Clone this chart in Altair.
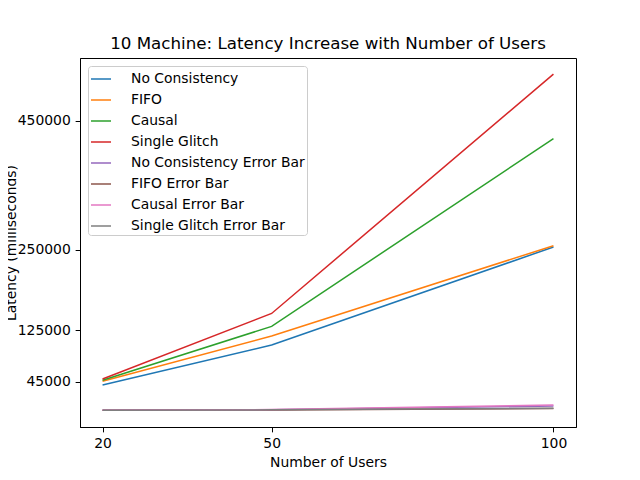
import altair as alt
import pandas as pd

users = [20, 50, 100]
series_names = [
    "No Consistency", "FIFO", "Causal", "Single Glitch",
    "No Consistency Error Bar", "FIFO Error Bar", "Causal Error Bar", "Single Glitch Error Bar",
]
no_consistency = [40000, 102000, 254000]
fifo = [46000, 116000, 256000]
causal = [47500, 131000, 422000]
single_glitch = [49500, 151000, 522000]
no_consistency_err = [1000, 1800, 7500]
fifo_err = [1000, 1500, 3500]
causal_err = [1100, 2000, 9000]
single_glitch_err = [1000, 1600, 4000]

colors = ["#1f77b4", "#ff7f0e", "#2ca02c", "#d62728",
          "#9467bd", "#8c564b", "#e377c2", "#7f7f7f"]
y_ticks = [45000, 125000, 250000, 450000]

all_series = [no_consistency, fifo, causal, single_glitch,
              no_consistency_err, fifo_err, causal_err, single_glitch_err]
rows = []
for i, (name, vals) in enumerate(zip(series_names, all_series)):
    for u, v in zip(users, vals):
        rows.append({"users": u, "latency": v, "series": name, "order": i})
df = pd.DataFrame(rows)

font = "DejaVu Sans"

chart = alt.Chart(df).mark_line(strokeWidth=1.5).encode(
    x=alt.X("users:Q", title="Number of Users",
            scale=alt.Scale(domain=[16, 104], nice=False, zero=False),
            axis=alt.Axis(values=users, format="d", labelPadding=4.9, titlePadding=5)),
    y=alt.Y("latency:Q", title="Latency (milliseconds)",
            scale=alt.Scale(domain=[-25000, 547000], nice=False, zero=False),
            axis=alt.Axis(values=y_ticks, format="d", labelPadding=4.9,
                          titleX=-62, titleY=184.5, titleBaseline="bottom",
                          titleAlign="center", titleAngle=270)),
    color=alt.Color("series:N", scale=alt.Scale(domain=series_names, range=colors),
                    legend=alt.Legend(title=None, orient="none", legendX=8, legendY=8,
                                      symbolType="stroke", symbolSize=400,
                                      symbolStrokeWidth=1.5, labelOffset=19,
                                      rowPadding=3, padding=2, labelLimit=400,
                                      strokeColor="#cccccc", fillColor="white",
                                      cornerRadius=3, labelFont=font,
                                      labelFontSize=13.9, labelColor="black")),
    detail="order:O",
).properties(
    width=496, height=369,
    padding={"left": 72, "top": 50, "right": 56, "bottom": 45},
    autosize="none",
    background="white",
    title=alt.TitleParams("10 Machine: Latency Increase with Number of Users",
                          font=font, fontSize=16.7, fontWeight="normal",
                          anchor="middle", baseline="alphabetic", offset=-8,
                          color="black"),
).configure_view(stroke="black", strokeWidth=1).configure_axis(
    grid=False, domainColor="black", tickColor="black", tickSize=4.86,
    labelColor="black", titleColor="black", labelFont=font, titleFont=font,
    labelFontSize=13.9, titleFontSize=13.9, titleFontWeight="normal",
    domainWidth=1, tickWidth=1,
)

chart.save("out.html", embed_options={"renderer": "svg", "actions": False})
